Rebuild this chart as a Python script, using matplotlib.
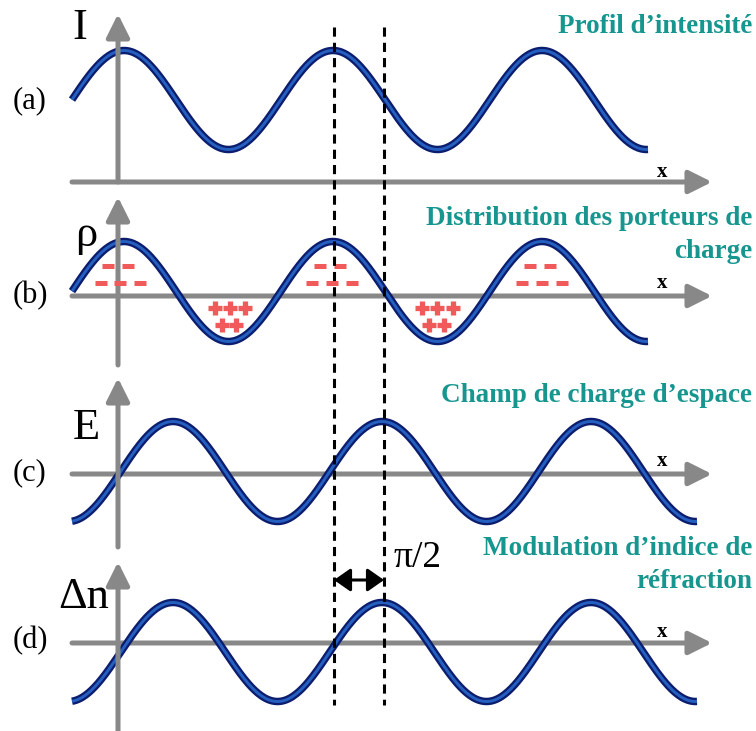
import numpy as np
import matplotlib
matplotlib.use("Agg")
import matplotlib.pyplot as plt

# canvas is in pixel units (y downwards), 756 x 731
W, H = 756, 731

# waves: one entry per panel (a) (b) (c) (d)
wave_x_start = [72, 72, 72, 72]
wave_x_end = [648, 648, 697, 697]
wave_center = [100, 291.5, 471.5, 652]
wave_amp = [49.5, 50, 50, 49.5]
wave_peak_x = [124, 124, 173, 173]
wave_period = 209

# axes: horizontal line y, vertical axis top / bottom
axis_h_y = [182, 296, 474, 643]
axis_v_top = [14, 197, 378, 562]
axis_v_bottom = [182, 365, 547, 731]
axis_x0, axis_x1, axis_v_x = 72, 712, 118

panel_labels = ["(a)", "(b)", "(c)", "(d)"]
panel_label_y = [101, 296, 473, 641]
quantity_labels = ["I", "ρ", "E", "Δn"]
quantity_label_x = [80, 86, 86, 84]
quantity_label_y = [39, 246, 439, 608]
x_label_y = [177, 288, 466, 637]

titles = [["Profil d’intensité"],
          ["Distribution des porteurs de", "charge"],
          ["Champ de charge d’espace"],
          ["Modulation d’indice de", "réfraction"]]
title_baselines = [[33], [225, 258], [402], [555, 588]]

# charges in panel (b)
minus_x = [108, 128, 101, 120, 140, 320, 340, 312, 332, 352, 530, 550, 522, 542, 562]
minus_y = [266, 266, 283, 283, 283, 266, 266, 283, 283, 283, 266, 266, 283, 283, 283]
plus_x = [215, 230, 245, 222, 236, 422, 437, 453, 429, 444]
plus_y = [308, 308, 308, 325, 325, 308, 308, 308, 325, 325]

# phase marker
dash_x = [334, 384]
dash_y0, dash_y1 = 27, 705
phase_arrow_y = 580

gray = "#888888"
teal = "#17968f"
red = "#f05a5a"

fig = plt.figure(figsize=(W / 100, H / 100), dpi=100)
ax = fig.add_axes([0, 0, 1, 1])
ax.set_xlim(0, W)
ax.set_ylim(H, 0)
ax.axis("off")

arrow_kw = dict(arrowstyle="-|>,head_length=0.7,head_width=0.35", color=gray,
                lw=3.6, shrinkA=0, shrinkB=0, mutation_scale=20)

for i in range(4):
    # horizontal axis
    ax.annotate("", xy=(axis_x1, axis_h_y[i]), xytext=(axis_x0, axis_h_y[i]),
                arrowprops=arrow_kw, zorder=1)
    # wave
    xs = np.linspace(wave_x_start[i], wave_x_end[i], 600)
    ys = wave_center[i] - wave_amp[i] * np.cos(2 * np.pi * (xs - wave_peak_x[i]) / wave_period)
    ax.plot(xs, ys, color="#0c1d6e", lw=5.4, solid_capstyle="butt", zorder=2)
    ax.plot(xs, ys, color="#2560c0", lw=2.1, solid_capstyle="butt", zorder=2.1)
    # vertical axis
    ax.annotate("", xy=(axis_v_x, axis_v_top[i]), xytext=(axis_v_x, axis_v_bottom[i]),
                arrowprops=arrow_kw, zorder=3)
    ax.text(30, panel_label_y[i], panel_labels[i], fontsize=22, family="Liberation Serif",
            ha="center", va="center")
    ax.text(quantity_label_x[i], quantity_label_y[i], quantity_labels[i], fontsize=32,
            family="Liberation Serif", ha="center", va="baseline")
    ax.text(662, x_label_y[i], "x", fontsize=15, family="Liberation Serif",
            weight="bold", ha="center", va="baseline")
    for line, base in zip(titles[i], title_baselines[i]):
        ax.text(752, base, line, fontsize=19.5, family="Liberation Serif", weight="bold",
                color=teal, ha="right", va="baseline")

ax.plot(minus_x, minus_y, ls="none", marker="_", ms=8.5, mew=3.6, color=red, zorder=3)
ax.plot(plus_x, plus_y, ls="none", marker="+", ms=10.3, mew=3.8, color=red, zorder=3)

for x in dash_x:
    ax.plot([x, x], [dash_y0, dash_y1], color="black", lw=2.2, ls=(0, (3, 2)), zorder=4)

ax.annotate("", xy=(dash_x[1], phase_arrow_y), xytext=(dash_x[0], phase_arrow_y),
            arrowprops=dict(arrowstyle="<|-|>,head_length=0.5,head_width=0.35",
                            color="black", lw=2.2, shrinkA=0, shrinkB=0,
                            mutation_scale=20), zorder=4)
ax.text(394, 567, "π/2", fontsize=27, family="Liberation Serif", ha="left", va="baseline")

fig.savefig("out.png", dpi=100)
